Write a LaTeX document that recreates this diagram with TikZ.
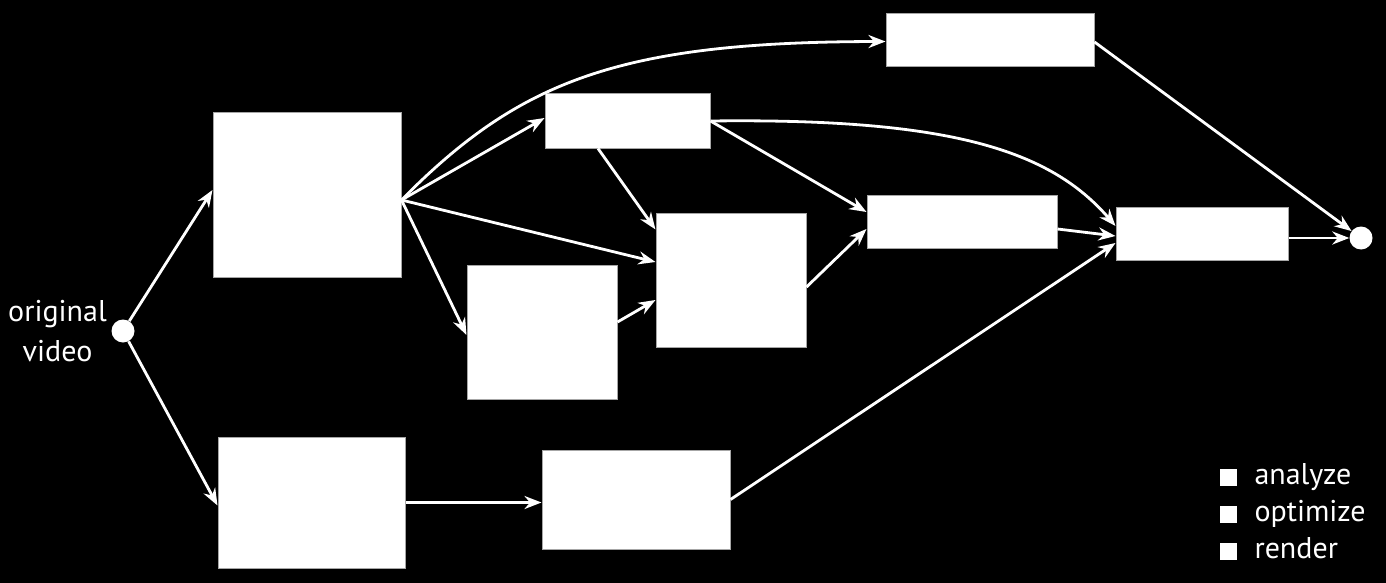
\documentclass[tikz,border=0pt]{standalone}
\usepackage{fontspec}
\setmainfont{PT Sans}
\usetikzlibrary{arrows.meta,positioning}

\begin{document}
\begin{tikzpicture}[x=1pt,y=-1pt,
    box/.style={draw=gray!70, fill=white, line width=1pt, inner sep=0pt},
    dot/.style={circle, fill=white, inner sep=0pt, minimum size=23pt},
    arr/.style={-{Stealth[length=17pt,width=13pt]}, white, line width=2.8pt},
    txt/.style={text=white, font=\fontsize{30}{40}\selectfont},
    sq/.style={fill=white, inner sep=0pt, minimum size=17pt}]
    % background and page size
    \fill[black] (0,0) rectangle (1386,583);
    \useasboundingbox (0,0) rectangle (1386,583);

    % source and sink
    \node[dot] (src) at (123,331) {};
    \node[dot] (sink) at (1361,238) {};
    \node[txt, align=center, left=1pt of src] (srclabel) {original\\video};

    % boxes
    \node[box, minimum width=188pt, minimum height=164pt] (n1) at (307,195) {};
    \node[box, minimum width=187pt, minimum height=131pt] (n2) at (311.5,502.5) {};
    \node[box, minimum width=165pt, minimum height=54pt] (n3) at (627.5,121) {};
    \node[box, minimum width=208pt, minimum height=53pt] (n4) at (990,40.5) {};
    \node[box, minimum width=150pt, minimum height=134pt] (n5) at (542,332) {};
    \node[box, minimum width=150pt, minimum height=134pt] (n6) at (731,280) {};
    \node[box, minimum width=190pt, minimum height=53pt] (n7) at (962,221.5) {};
    \node[box, minimum width=172pt, minimum height=53pt] (n8) at (1202,233.5) {};
    \node[box, minimum width=188pt, minimum height=99pt] (n9) at (636,499.5) {};

    % connectors
    \coordinate (fan) at ([yshift=-5pt]n1.east);
    \draw[arr] (src) -- ([yshift=5pt]n1.west);
    \draw[arr] (src) -- ([yshift=-3pt]n2.west);
    \draw[arr] (fan) .. controls (520,80) and (620,42) .. ([yshift=-1pt]n4.west);
    \draw[arr] (fan) -- ([yshift=3pt]n3.west);
    \draw[arr] (fan) -- ([yshift=18pt]n6.west);
    \draw[arr] (fan) -- ([yshift=-3pt]n5.west);
    \draw[arr] ([xshift=-29.5pt]n3.south) -- ([yshift=-17pt]n6.north west);
    \draw[arr] (n3.east) -- ([yshift=9.5pt]n7.west);
    \draw[arr] (n3.east) .. controls (950,118) and (1050,150) .. ([yshift=7.5pt]n8.west);
    \draw[arr] ([yshift=10pt]n5.east) -- ([yshift=-20pt]n6.west);
    \draw[arr] ([yshift=-7pt]n6.east) -- ([yshift=-7.5pt]n7.west);
    \draw[arr] ([yshift=-7.5pt]n7.east) -- ([yshift=-2.5pt]n8.west);
    \draw[arr] (n9.east) -- ([yshift=-9.5pt]n8.west);
    \draw[arr] (n2.east) -- (n9.west |- n2.east);
    \draw[arr] ([yshift=-1.5pt]n4.east) -- (sink);
    \draw[arr] ([yshift=-4.5pt]n8.east) -- (sink);

    % legend
    \node[txt, anchor=base west] (lg1) at (1251,484) {analyze};
    \node[txt, anchor=base west] (lg2) at (1251,521) {optimize};
    \node[txt, anchor=base west] (lg3) at (1251,558) {render};
    \node[sq, anchor=south west] (sq1) at (1220,486) {};
    \node[sq, anchor=south west] (sq2) at (1220,523) {};
    \node[sq, anchor=south west] (sq3) at (1220,560) {};
\end{tikzpicture}
\end{document}
